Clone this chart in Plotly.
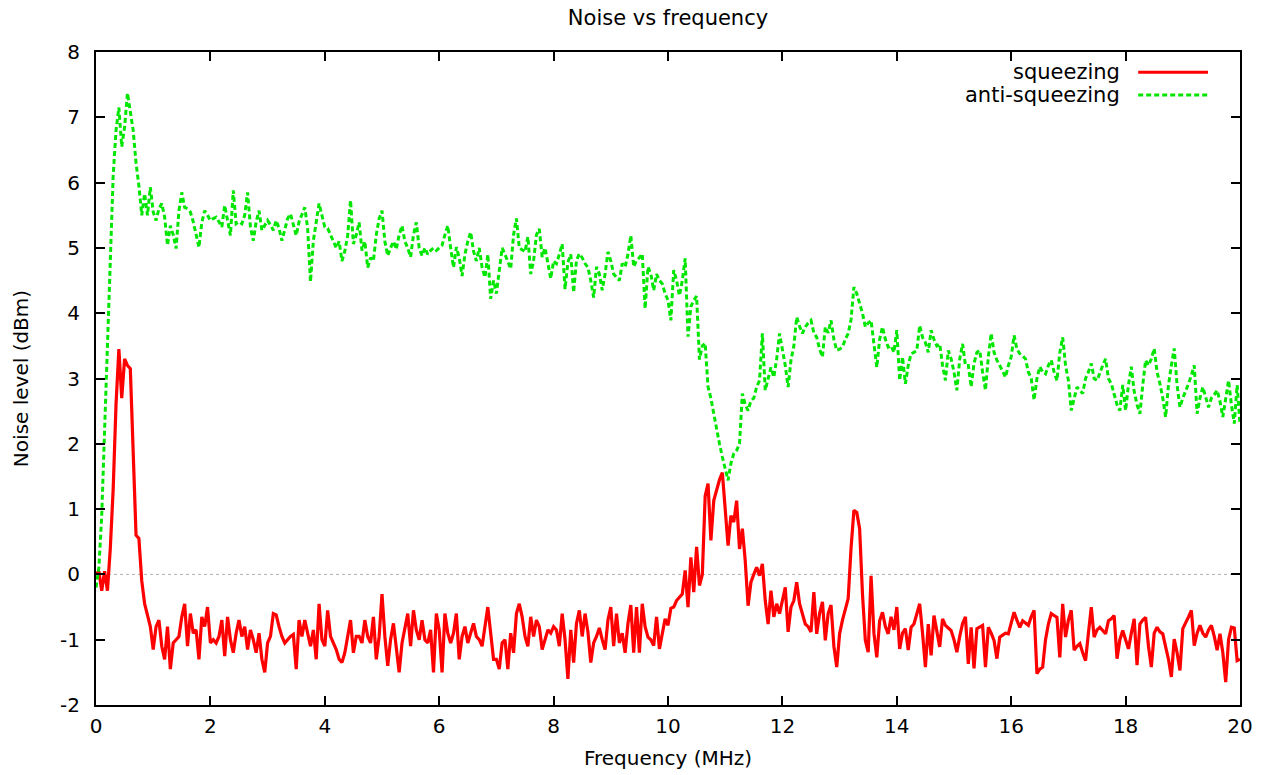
import numpy as np
import plotly.graph_objects as go

# Frequency grid (MHz), 0.05 MHz steps from 0 to 20
freq = np.round(np.arange(401) * 0.05, 2)

# Squeezing noise level (dBm) (1 MHz per row)
squeezing = [
    0.0, 0.05, -0.25, 0.05, -0.25, 0.4, 1.3, 2.6, 3.45, 2.7, 3.3, 3.2, 3.15, 1.9, 0.6, 0.55, -0.1, -0.45, -0.65, -0.8,
    -1.15, -0.8, -0.7, -1.1, -1.3, -0.8, -1.45, -1.05, -1.0, -0.95, -0.65, -0.45, -1.1, -0.6, -0.9, -0.85, -1.3, -0.65, -0.8, -0.5,
    -1.05, -1.0, -1.05, -0.95, -0.7, -1.25, -0.65, -1.0, -1.2, -0.9, -0.7, -0.95, -0.8, -1.15, -0.85, -1.0, -1.2, -0.9, -1.3, -1.5,
    -1.05, -0.95, -0.6, -0.62, -0.8, -0.95, -1.05, -1.0, -0.95, -0.92, -1.45, -0.7, -0.95, -0.7, -0.9, -1.1, -0.85, -1.3, -0.45, -1.0,
    -1.1, -0.55, -0.95, -1.05, -1.15, -1.3, -1.35, -1.2, -0.95, -0.7, -1.2, -0.95, -0.95, -1.05, -0.7, -0.95, -1.05, -0.65, -1.3, -0.95,
    -0.3, -0.95, -1.4, -1.0, -0.75, -1.15, -1.5, -1.05, -0.8, -0.6, -1.1, -0.55, -0.85, -1.0, -0.7, -1.0, -1.05, -0.85, -1.5, -0.6,
    -0.85, -1.5, -0.6, -0.9, -1.05, -0.9, -0.6, -1.3, -0.95, -0.8, -1.05, -0.9, -0.75, -0.95, -1.0, -1.1, -0.8, -0.5, -0.9, -1.3,
    -1.3, -1.45, -1.05, -1.0, -1.45, -0.9, -1.2, -0.6, -0.45, -0.65, -0.95, -1.1, -0.65, -0.95, -0.7, -0.8, -1.15, -1.0, -0.85, -0.9,
    -0.8, -0.85, -1.1, -0.6, -1.0, -1.6, -0.85, -1.35, -0.75, -0.55, -0.95, -0.6, -0.88, -1.35, -1.05, -0.95, -0.82, -1.0, -1.15, -0.7,
    -0.5, -1.1, -0.6, -1.05, -0.9, -1.2, -0.75, -0.47, -1.2, -0.5, -1.2, -0.45, -0.8, -0.96, -1.0, -1.09, -0.65, -1.14, -0.9, -0.68,
    -0.78, -0.52, -0.5, -0.4, -0.35, -0.3, 0.06, -0.5, 0.26, -0.27, 0.42, -0.17, 0.0, 1.2, 1.39, 0.52, 1.13, 1.3, 1.45, 1.56,
    1.0, 0.44, 0.9, 0.8, 1.13, 0.39, 0.7, 0.21, -0.48, -0.12, 0.0, 0.11, -0.02, 0.16, -0.4, -0.76, -0.25, -0.65, -0.45, -0.6,
    -0.4, -0.2, -0.88, -0.5, -0.4, -0.12, -0.45, -0.6, -0.76, -0.8, -0.88, -0.27, -0.91, -0.6, -0.42, -1.01, -0.6, -0.47, -1.1, -1.42,
    -0.91, -0.7, -0.55, -0.37, 0.4, 0.98, 0.95, 0.7, -0.3, -1.01, -1.19, -0.02, -0.9, -1.27, -0.71, -0.58, -0.8, -0.91, -0.65, -0.85,
    -0.5, -1.14, -0.9, -0.83, -1.16, -0.81, -0.76, -0.6, -0.45, -0.9, -1.42, -0.76, -1.24, -0.63, -0.9, -1.11, -0.68, -0.78, -0.82, -0.86,
    -1.0, -1.19, -0.95, -0.75, -0.65, -1.37, -0.81, -1.44, -0.83, -0.8, -0.78, -1.42, -0.81, -0.9, -1.01, -1.29, -0.96, -0.93, -0.9, -0.91,
    -0.75, -0.58, -0.7, -0.81, -0.71, -0.75, -0.78, -0.65, -0.55, -1.52, -1.45, -1.42, -1.0, -0.76, -0.6, -0.63, -0.66, -1.27, -0.45, -0.96,
    -0.7, -0.55, -1.16, -1.1, -1.06, -1.2, -1.32, -0.9, -0.5, -0.96, -0.85, -0.81, -0.86, -0.91, -0.71, -0.68, -0.63, -1.29, -1.0, -0.86,
    -1.0, -1.14, -0.9, -0.68, -1.39, -0.76, -0.7, -0.66, -1.1, -1.42, -0.9, -0.81, -0.88, -0.91, -1.11, -1.3, -1.57, -0.99, -1.2, -1.47,
    -0.83, -0.75, -0.65, -0.55, -1.09, -0.9, -0.78, -0.9, -0.96, -0.85, -0.78, -0.95, -1.16, -0.91, -1.2, -1.65, -1.0, -0.81, -0.82, -1.32,
    -1.3,
]

# Anti-squeezing noise level (dBm)
anti_squeezing = [
    -0.2, 0.1, 0.9, 2.2, 3.6, 4.9, 6.1, 6.8, 7.15, 6.55, 6.85, 7.37, 7.1, 6.8, 6.3, 5.95, 5.5, 5.83, 5.5, 5.93,
    5.55, 5.42, 5.6, 5.68, 5.47, 5.04, 5.34, 5.2, 4.99, 5.57, 5.85, 5.62, 5.6, 5.55, 5.4, 5.2, 5.01, 5.39, 5.57, 5.5,
    5.42, 5.45, 5.47, 5.4, 5.32, 5.65, 5.4, 5.19, 5.88, 5.37, 5.4, 5.37, 5.5, 5.85, 5.32, 5.11, 5.4, 5.57, 5.27, 5.35,
    5.42, 5.35, 5.27, 5.42, 5.3, 5.11, 5.3, 5.45, 5.52, 5.35, 5.19, 5.4, 5.5, 5.62, 5.3, 4.48, 5.11, 5.4, 5.68, 5.5,
    5.32, 5.3, 5.2, 5.11, 5.0, 5.1, 4.8, 4.95, 5.19, 5.73, 5.06, 5.2, 5.39, 4.96, 5.1, 4.7, 4.85, 4.8, 5.2, 5.45,
    5.57, 5.1, 4.88, 5.0, 5.1, 4.98, 5.2, 5.34, 5.1, 5.0, 4.86, 5.2, 5.39, 5.0, 4.88, 5.0, 4.9, 4.96, 5.0, 4.96,
    5.0, 5.04, 5.2, 5.34, 5.0, 4.7, 5.01, 4.85, 4.57, 4.9, 5.1, 5.24, 4.95, 4.8, 5.0, 4.7, 4.55, 4.9, 4.22, 4.5,
    4.3, 4.7, 5.0, 4.9, 4.8, 4.68, 5.2, 5.45, 5.0, 4.97, 4.94, 5.17, 4.6, 4.8, 5.2, 5.29, 4.86, 5.0, 4.76, 4.53,
    4.8, 4.76, 4.9, 5.06, 4.37, 4.78, 4.9, 4.32, 4.81, 4.91, 4.85, 4.76, 4.7, 4.5, 4.24, 4.71, 4.6, 4.35, 4.6, 4.94,
    4.8, 4.6, 4.55, 4.5, 4.76, 4.71, 4.9, 5.19, 4.71, 4.81, 4.85, 4.91, 4.07, 4.71, 4.6, 4.35, 4.6, 4.5, 4.45, 4.3,
    4.2, 3.89, 4.66, 4.5, 4.27, 4.5, 4.84, 3.64, 4.1, 4.2, 4.26, 3.29, 3.5, 3.54, 2.87, 2.7, 2.46, 2.2, 2.0, 1.8,
    1.6, 1.44, 1.7, 1.85, 1.9, 2.0, 2.77, 2.6, 2.51, 2.66, 2.7, 2.87, 2.97, 3.69, 2.82, 3.0, 3.17, 3.02, 3.3, 3.69,
    3.43, 3.2, 2.87, 3.28, 3.5, 3.94, 3.8, 3.69, 3.79, 3.85, 3.89, 3.7, 3.63, 3.45, 3.33, 3.79, 3.7, 3.89, 3.6, 3.43,
    3.45, 3.48, 3.6, 3.69, 3.9, 4.4, 4.3, 4.15, 4.0, 3.79, 3.85, 3.89, 3.5, 3.17, 3.6, 3.79, 3.6, 3.48, 3.5, 3.4,
    3.74, 2.97, 3.33, 2.92, 3.2, 3.38, 3.4, 3.43, 3.81, 3.63, 3.55, 3.4, 3.74, 3.6, 3.5, 3.53, 3.2, 2.97, 3.43, 3.3,
    3.1, 2.82, 3.3, 3.53, 3.2, 3.2, 2.87, 3.23, 3.4, 3.43, 3.1, 2.82, 3.33, 3.69, 3.4, 3.28, 3.2, 3.1, 3.02, 3.2,
    3.33, 3.66, 3.45, 3.38, 3.35, 3.3, 3.1, 3.0, 2.67, 3.0, 3.18, 3.1, 3.07, 3.2, 3.28, 3.1, 2.97, 3.4, 3.63, 3.2,
    2.97, 2.51, 2.7, 2.87, 2.82, 2.77, 3.0, 3.1, 3.23, 3.0, 2.97, 3.1, 3.2, 3.3, 3.0, 2.92, 2.75, 2.6, 2.51, 2.9,
    2.51, 2.9, 3.18, 2.8, 2.6, 2.46, 2.9, 3.28, 3.2, 3.3, 3.46, 3.1, 2.92, 2.7, 2.41, 2.9, 3.2, 3.46, 2.9, 2.56,
    2.7, 2.8, 2.92, 3.05, 3.2, 2.46, 2.7, 2.87, 2.7, 2.56, 2.7, 2.75, 2.82, 2.65, 2.41, 2.7, 2.97, 2.6, 2.31, 2.9,
    2.3,
]

series_names = ["squeezing", "anti-squeezing"]
x_ticks = [0, 2, 4, 6, 8, 10, 12, 14, 16, 18, 20]
y_ticks = [-2, -1, 0, 1, 2, 3, 4, 5, 6, 7, 8]

RED = "#ff0000"
GREEN = "#00e600"
FONT = "DejaVu Sans"

fig = go.Figure()
fig.add_trace(go.Scatter(x=freq, y=squeezing, mode="lines", name=series_names[0],
                         line=dict(color=RED, width=3.2)))
fig.add_trace(go.Scatter(x=freq, y=anti_squeezing, mode="lines", name=series_names[1],
                         line=dict(color=GREEN, width=3, dash="5px,3px")))

# dotted zero line
fig.add_hline(y=0, line=dict(color="#b0b0b0", width=1, dash="dot"), layer="below")

# legend (gnuplot style: text right-aligned, sample to the right)
leg_rows = [(0.969, RED, "solid"), (0.934, GREEN, "5px,3px")]
for (yp, col, dash), name in zip(leg_rows, series_names):
    fig.add_annotation(x=0.897, y=yp, xref="paper", yref="paper", text=name,
                       showarrow=False, xanchor="right", yanchor="middle",
                       font=dict(family=FONT, size=21, color="black"))
    fig.add_shape(type="line", xref="paper", yref="paper", x0=0.911, x1=0.972,
                  y0=yp, y1=yp, line=dict(color=col, width=3, dash=dash))

axis_common = dict(showline=True, linecolor="black", linewidth=2, mirror="ticks",
                   ticks="inside", ticklen=9, tickwidth=1.5, tickcolor="black",
                   showgrid=False, zeroline=False, automargin=False,
                   tickfont=dict(family=FONT, size=20, color="black"))

fig.update_xaxes(range=[0, 20], tickvals=x_ticks, ticktext=[str(v) for v in x_ticks],
                 title=dict(text="Frequency (MHz)", font=dict(family=FONT, size=20, color="black"), standoff=14),
                 ticklabelstandoff=2, **axis_common)
fig.update_yaxes(range=[-2, 8], tickvals=y_ticks, ticktext=[str(v) for v in y_ticks],
                 title=dict(text="Noise level (dBm)", font=dict(family=FONT, size=20, color="black"), standoff=26),
                 ticklabelstandoff=10, **axis_common)

fig.update_layout(
    width=1261, height=775,
    margin=dict(l=96, r=21, t=52, b=70, autoexpand=False),
    paper_bgcolor="white", plot_bgcolor="white",
    showlegend=False,
    title=dict(text="Noise vs frequency", x=0.5, xref="paper", xanchor="center",
               y=1 - 18 / 775, yref="container", yanchor="middle",
               font=dict(family=FONT, size=21, color="black")),
)

fig.write_html("out.html", config={"displayModeBar": False},
               post_script="document.body.style.margin='0';document.body.style.padding='0';")
